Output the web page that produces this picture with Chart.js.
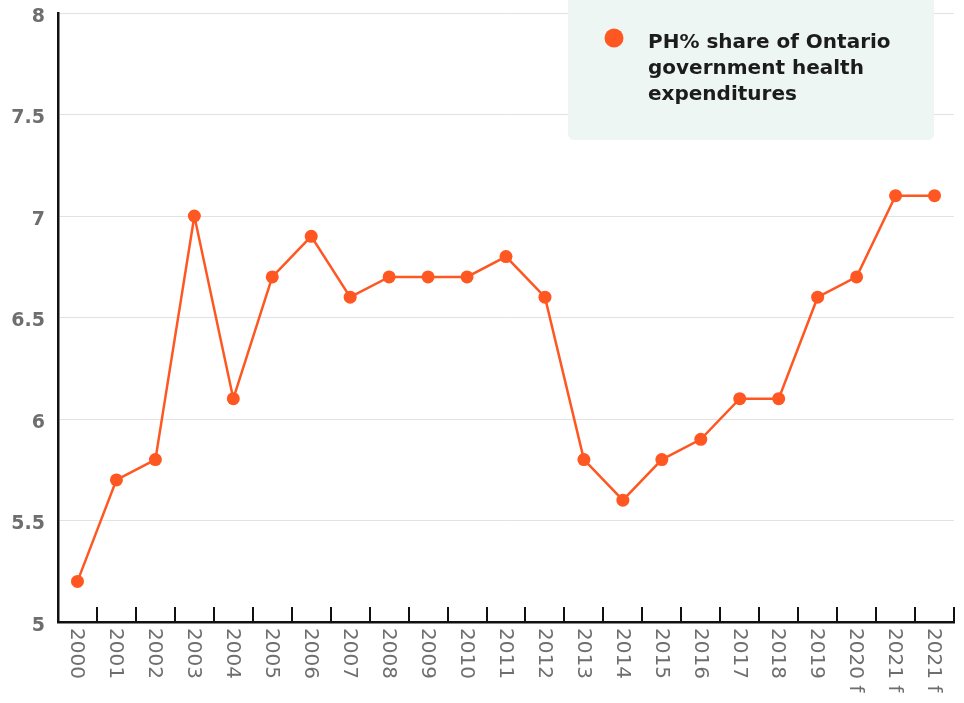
<!DOCTYPE html>
<html>
<head>
<meta charset="utf-8">
<title>PH% share of Ontario government health expenditures</title>
<script src="https://cdn.jsdelivr.net/npm/chart.js@4"></script>
<style>
  html, body { margin: 0; padding: 0; background: #fff; }
  #wrap { width: 964px; height: 703px; }
</style>
</head>
<body>
<div id="wrap"><canvas id="myChart" width="964" height="703"></canvas></div>
<script>
const years = [
    '2000', '2001', '2002', '2003', '2004', '2005', '2006', '2007',
    '2008', '2009', '2010', '2011', '2012', '2013', '2014', '2015',
    '2016', '2017', '2018', '2019', '2020 f', '2021 f', '2021 f'
];
const phShare = [
    5.2, 5.7, 5.8, 7.0, 6.1, 6.7, 6.9, 6.6,
    6.7, 6.7, 6.7, 6.8, 6.6, 5.8, 5.6, 5.8,
    5.9, 6.1, 6.1, 6.6, 6.7, 7.1, 7.1
];
const yTicks = [5, 5.5, 6, 6.5, 7, 7.5, 8];
const seriesLabel = 'PH% share of Ontario government health expenditures';
const legendLines = ['PH% share of Ontario', 'government health', 'expenditures'];

const orange = '#ff5722';
const labelGrey = '#6e6e6e';

// year labels read top to bottom, plus small tick marks standing on the x axis
const xAxisDecor = {
    id: 'xAxisDecor',
    afterDraw(chart) {
        const ctx = chart.ctx;
        const xs = chart.scales.x;
        const bottom = chart.chartArea.bottom;
        const step = xs.getPixelForTick(1) - xs.getPixelForTick(0);

        ctx.save();
        ctx.strokeStyle = '#111';
        ctx.lineWidth = 2;
        for (let i = 0; i < years.length; i++) {
            const x = Math.round(xs.getPixelForTick(i) + step / 2);
            ctx.beginPath();
            ctx.moveTo(x, bottom - 15);
            ctx.lineTo(x, bottom);
            ctx.stroke();
        }

        ctx.fillStyle = labelGrey;
        ctx.font = '500 20px "DejaVu Sans"';
        ctx.textAlign = 'left';
        ctx.textBaseline = 'middle';
        for (let i = 0; i < years.length; i++) {
            ctx.save();
            ctx.translate(xs.getPixelForTick(i), bottom + 6);
            ctx.rotate(Math.PI / 2);
            ctx.fillText(xs.getLabelForValue(i), 0, 1);
            ctx.restore();
        }
        ctx.restore();
    }
};

// legend card in the top right corner
const legendCard = {
    id: 'legendCard',
    afterDraw(chart) {
        const ctx = chart.ctx;
        const ds = chart.data.datasets[0];
        ctx.save();
        ctx.fillStyle = '#eef6f4';
        ctx.beginPath();
        ctx.roundRect(568, -10, 366, 150, 6);
        ctx.fill();

        ctx.fillStyle = ds.pointBackgroundColor;
        ctx.beginPath();
        ctx.arc(614, 38, 9.5, 0, Math.PI * 2);
        ctx.fill();

        ctx.fillStyle = '#1c1c1c';
        ctx.font = 'bold 20px "DejaVu Sans"';
        ctx.textAlign = 'left';
        ctx.textBaseline = 'alphabetic';
        legendLines.forEach((line, i) => {
            ctx.fillText(line, 648, 48 + i * 26);
        });
        ctx.restore();
    }
};

const ctx = document.getElementById('myChart').getContext('2d');
const myChart = new Chart(ctx, {
    type: 'line',
    data: {
        labels: years,
        datasets: [{
            label: seriesLabel,
            data: phShare,
            borderColor: orange,
            backgroundColor: orange,
            pointBackgroundColor: orange,
            pointBorderWidth: 0,
            pointRadius: 6.5,
            borderWidth: 2.5,
            tension: 0
        }]
    },
    options: {
        responsive: false,
        animation: false,
        devicePixelRatio: 1,
        layout: {
            padding: { top: 13, right: 10, left: 0, bottom: 0 }
        },
        plugins: {
            legend: { display: false },
            tooltip: { enabled: false }
        },
        scales: {
            x: {
                offset: true,
                grid: { drawOnChartArea: false, drawTicks: false },
                border: { display: true, color: '#111', width: 2.5 },
                ticks: { display: false },
                afterFit: scale => { scale.height = 81; }
            },
            y: {
                min: 5,
                max: 8,
                afterBuildTicks: axis => {
                    axis.ticks = yTicks.map(v => ({ value: v }));
                },
                grid: { color: '#e2e2e2', lineWidth: 1, drawTicks: false },
                border: { display: true, color: '#111', width: 2.5 },
                ticks: {
                    padding: 13,
                    labelOffset: 4,
                    color: labelGrey,
                    font: { family: 'DejaVu Sans', size: 19, weight: 'bold' },
                    callback: value => String(value)
                },
                afterFit: scale => {
                    scale.width = 58;
                    scale.paddingTop = 0;
                    scale.paddingBottom = 0;
                }
            }
        }
    },
    plugins: [xAxisDecor, legendCard]
});
</script>
</body>
</html>
